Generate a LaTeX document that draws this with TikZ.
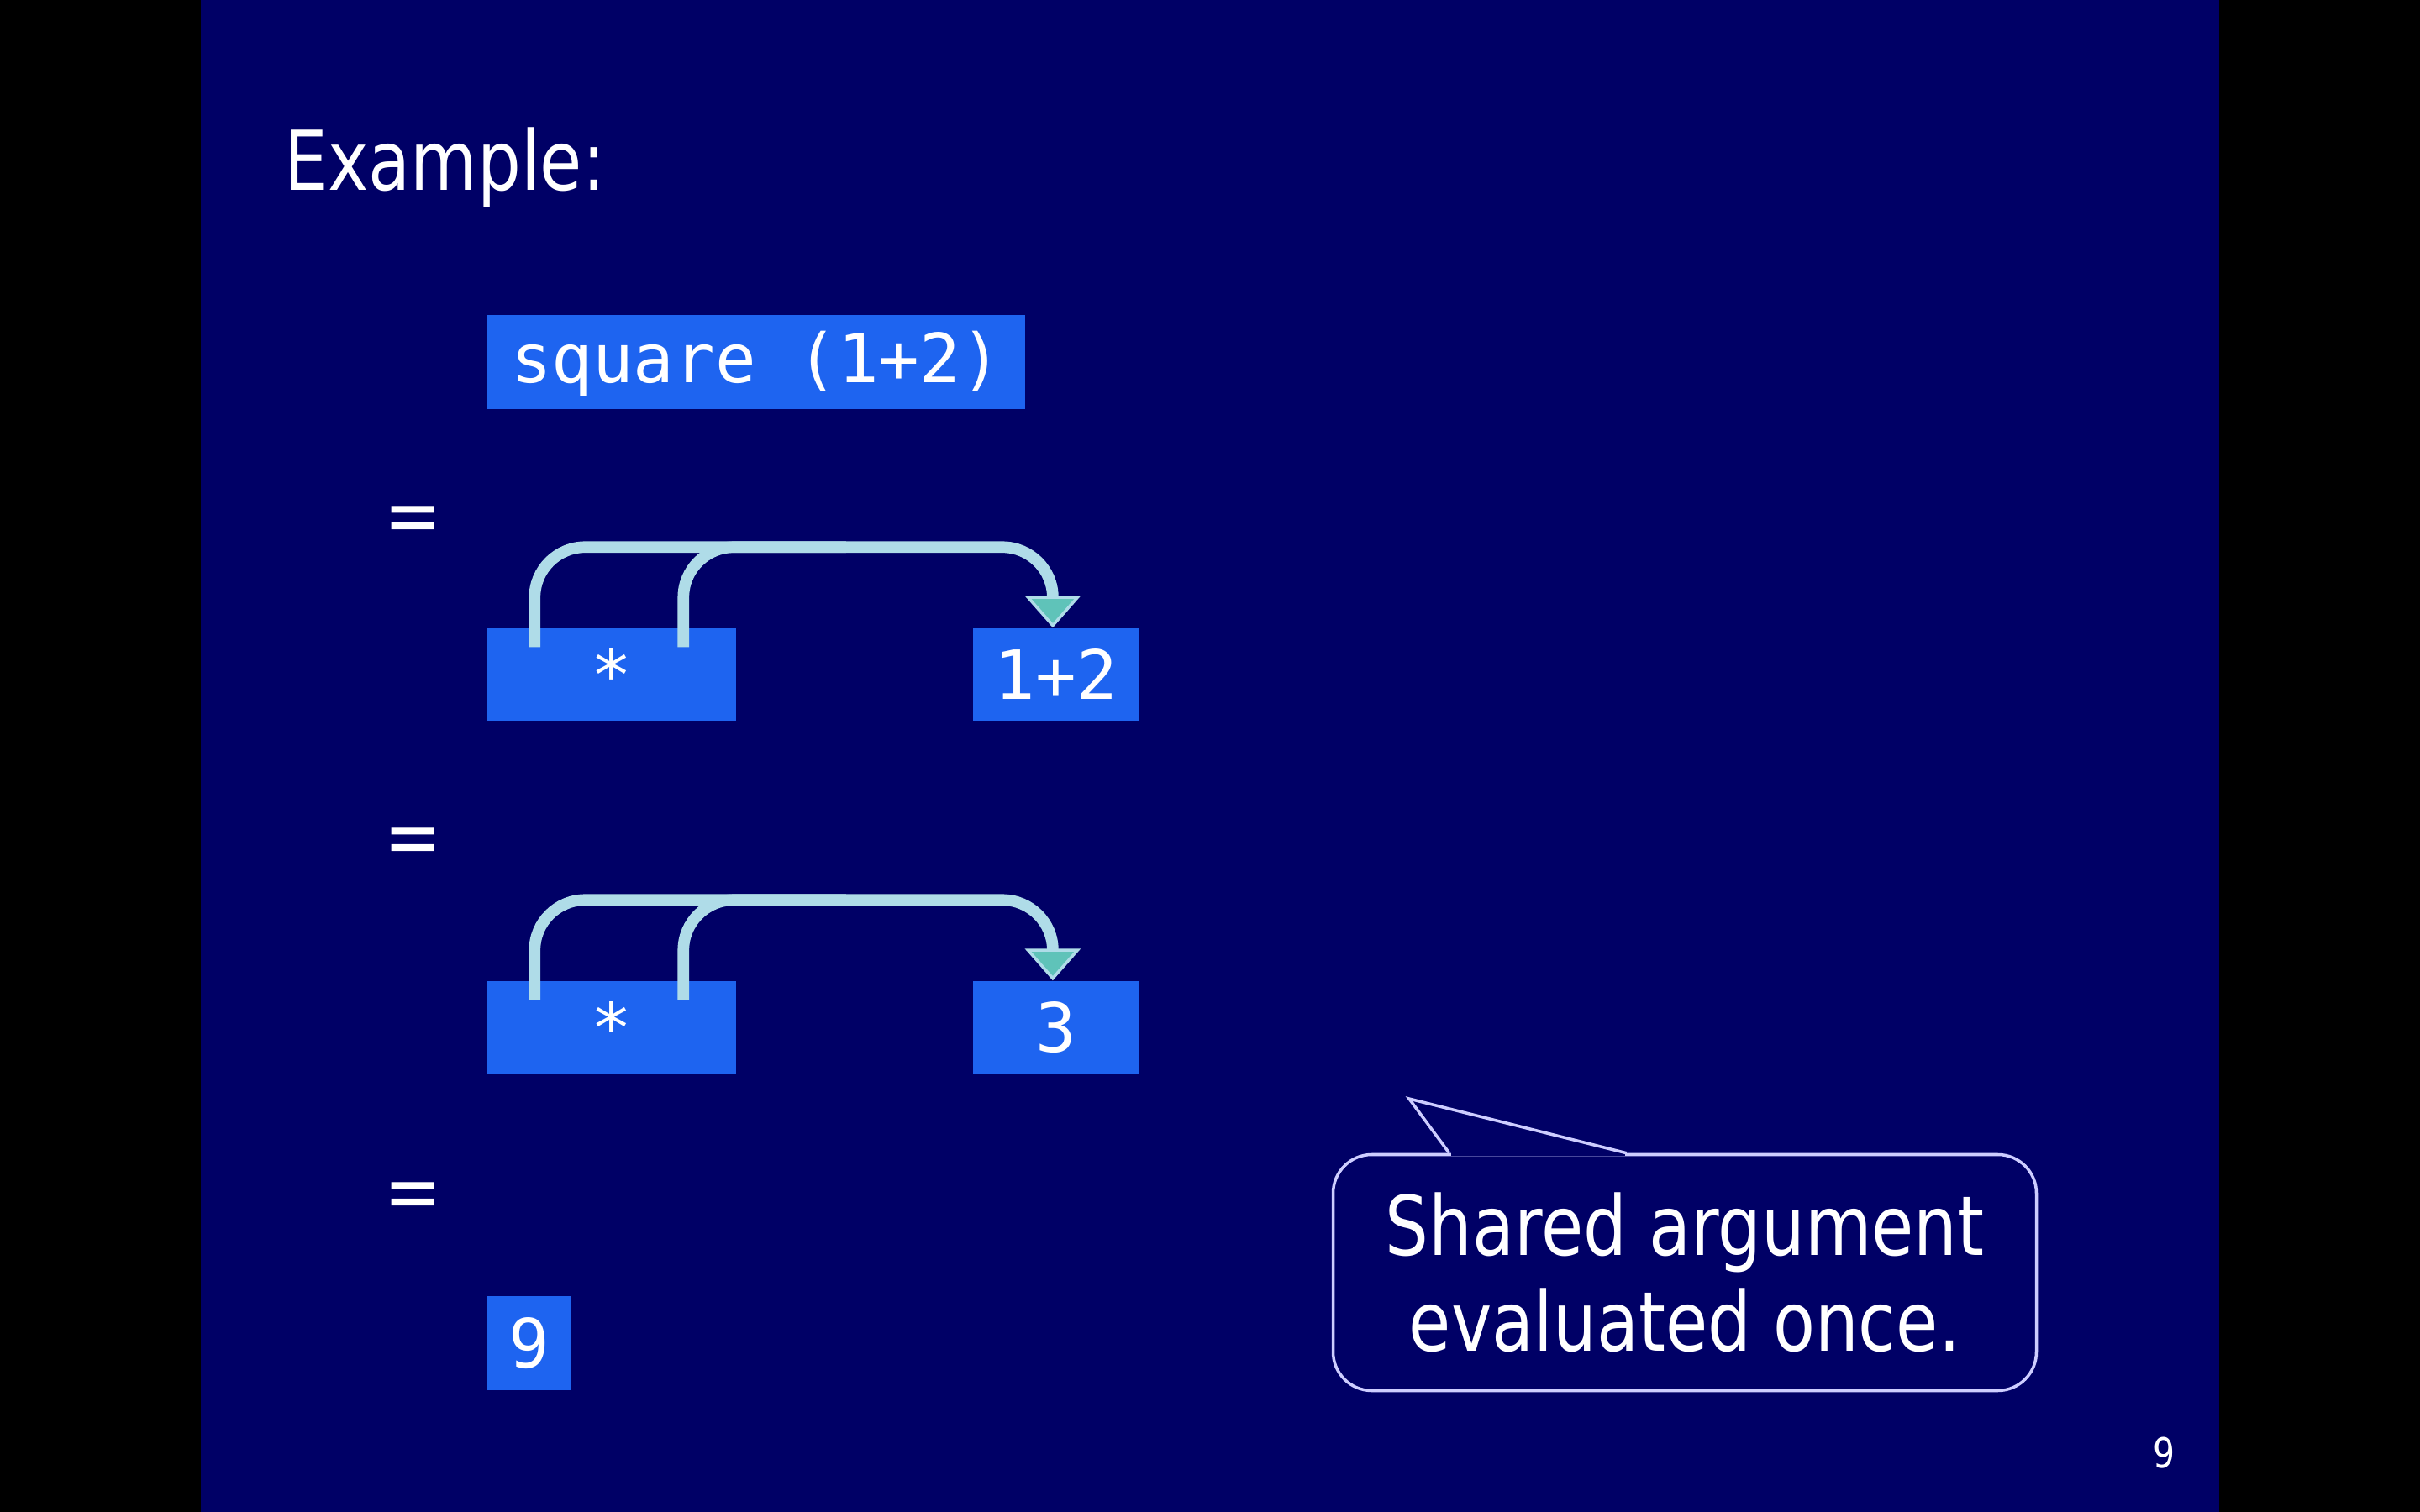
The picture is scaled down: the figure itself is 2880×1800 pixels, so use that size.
\documentclass[tikz,border=0pt]{standalone}
\usepackage{fontspec}
\setmainfont{DejaVu Sans}[FakeStretch=0.83]
\newfontfamily\codefont{DejaVu Sans Mono}
\usetikzlibrary{positioning,calc,arrows.meta}

\definecolor{slidebg}{RGB}{0,0,102}
\definecolor{boxblue}{RGB}{30,100,240}
\definecolor{linkcyan}{RGB}{175,220,232}
\definecolor{tipteal}{RGB}{95,195,185}
\definecolor{noteline}{RGB}{205,205,255}

\tikzset{
  codebox/.style={fill=boxblue, text=white, inner sep=0pt, font=\codefont\fontsize{23}{26}\selectfont,
    text height=18pt, text depth=1.4pt, minimum height=11mm},
  eqsign/.style={text=white, font=\fontsize{28}{32}\selectfont},
  share/.style={draw=linkcyan, line width=3.9pt, rounded corners=6mm},
  sharetip/.style={-{Triangle[width=6.6mm,length=3.8mm,fill=tipteal,line width=1pt]}},
  note/.style={draw=noteline, line width=1pt, rounded corners=4.6mm, text=white, align=center,
    minimum width=83.7mm, minimum height=28.1mm, font=\fontsize{28}{32.4}\selectfont},
}

\begin{document}
\begin{tikzpicture}[x=0.1mm, y=-0.1mm]
  % 背景与两侧黑边
  \fill[black] (0,0) rectangle (2880,1800);
  \fill[slidebg] (239,0) rectangle (2641,1800);
  \useasboundingbox (0,0) rectangle (2880,1800);

  % 标题
  \node[text=white, anchor=base west, inner sep=0pt, font=\fontsize{28}{32}\selectfont] (title) at (338,227) {Example:};

  % 原表达式
  \node[codebox, minimum width=64mm, minimum height=11.2mm, text height=16pt, text depth=2pt] (expr) at (900,431) {square (1+2)};

  % 等号
  \foreach \i/\y in {A/625, B/1008, C/1430} {
    \node[eqsign] (eq\i) at (492,\y) {=};
  }

  % 共享参数的两行
  \foreach \r/\val/\y in {A/1+2/803, B/3/1223} {
    \node[codebox, minimum width=29.6mm] (mul\r) at (728,\y) {*};
    \node[codebox, minimum width=19.7mm, right=28.1mm of mul\r] (arg\r) {\val};
    % 两条指向同一参数的连线
    \draw[share] ($(mul\r.north west)+(234,23)$) |- ($(arg\r.north)+(-250,-96)$);
    \draw[share, sharetip] ($(mul\r.north west)+(57,23)$) |- ($(arg\r.north)+(-4,-96)$) -- ($(arg\r.north)+(-4,0)$);
  }

  % 结果
  \node[codebox, minimum width=10mm, minimum height=11.2mm] (result) at (630,1599) {9};

  % 说明气泡
  \node[note] (note) at (2005,1515) {Shared argument\\evaluated once.};
  \coordinate (tip) at (1677,1308);
  \draw[slidebg, line width=2pt] ($(note.north west)+(142,0)$) -- ($(note.north west)+(349,0)$);
  \draw[noteline, line width=1pt, line join=miter] ($(note.north west)+(140,0)$) -- (tip) -- ($(note.north west)+(351,0)$);

  % 页码
  \node[text=white, font=\fontsize{14}{16}\selectfont] (pageno) at (2575,1730) {9};
\end{tikzpicture}
\end{document}
